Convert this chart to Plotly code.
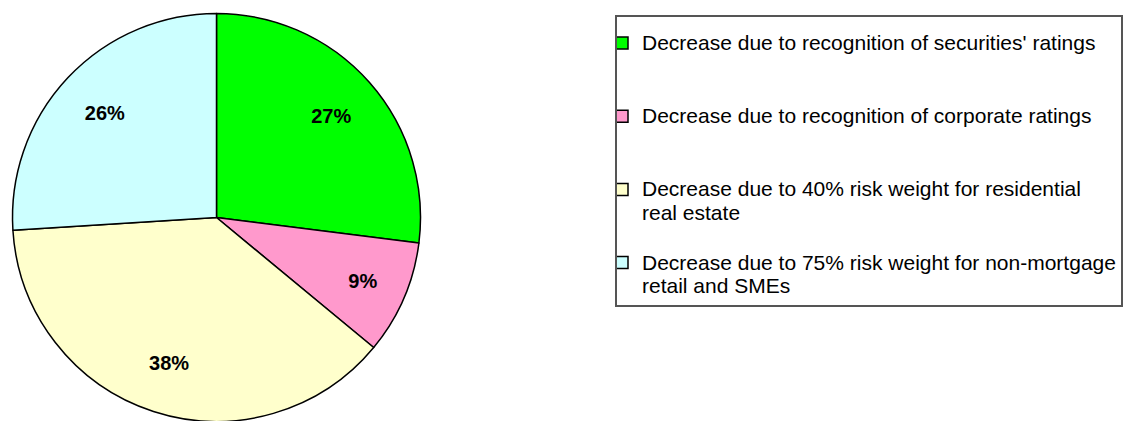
import plotly.graph_objects as go

categories = [
    "Decrease due to recognition of securities' ratings",
    "Decrease due to recognition of corporate ratings",
    "Decrease due to 40% risk weight for residential<br>real estate",
    "Decrease due to 75% risk weight for non-mortgage<br>retail and SMEs",
]
values = [27, 9, 38, 26]
colors = ["#00FF00", "#FF99CC", "#FFFFCC", "#CCFFFF"]

W, H = 1135, 421
OFF = 8  # default page body margin of the browser
LEG_SIZE = 18
TXT_SIZE = 21
FONT = "Liberation Sans, Arial, sans-serif"


def legend_label(text, pad_lines):
    lines = text.split("<br>")
    styled = [f"<span style='font-size:{TXT_SIZE}px'>{ln}</span>" for ln in lines]
    styled += [" "] * pad_lines
    return "<br>".join(styled)


pads = [2, 2, 1, 0]
legend_labels = [legend_label(c, p) for c, p in zip(categories, pads)]

# pie placement in screen pixels (left, top, diameter)
px_left, px_top, diam = 12.5 - OFF, 13.5 - OFF, 408
dom_x = [px_left / W, (px_left + diam) / W]
dom_y = [1 - (px_top + diam) / H, 1 - px_top / H]

fig = go.Figure()

# the pie itself
fig.add_trace(
    go.Pie(
        labels=legend_labels,
        values=values,
        marker=dict(colors=colors, line=dict(color="#000000", width=1.5)),
        sort=False,
        direction="clockwise",
        rotation=0,
        textinfo="none",
        domain=dict(x=dom_x, y=dom_y),
        hoverinfo="label+percent",
    )
)

# transparent ring carrying the percentage labels further out from the centre
fig.add_trace(
    go.Pie(
        labels=categories,
        values=values,
        hole=0.5,
        marker=dict(colors=["rgba(0,0,0,0)"] * len(values), line=dict(width=0)),
        sort=False,
        direction="clockwise",
        rotation=0,
        textinfo="percent",
        texttemplate="%{percent:.0%}",
        textposition="inside",
        insidetextorientation="horizontal",
        textfont=dict(family=FONT, size=20, color="#000000", weight="bold"),
        domain=dict(x=dom_x, y=dom_y),
        showlegend=False,
        hoverinfo="skip",
    )
)

fig.update_layout(
    width=W,
    height=H,
    margin=dict(l=0, r=0, t=0, b=0),
    paper_bgcolor="#FFFFFF",
    plot_bgcolor="#FFFFFF",
    showlegend=True,
    legend=dict(
        x=(615 - OFF) / W,
        y=1 - (15 - OFF) / H,
        xanchor="left",
        yanchor="top",
        bgcolor="#FFFFFF",
        bordercolor="#555555",
        borderwidth=2,
        font=dict(family=FONT, size=LEG_SIZE, color="#000000"),
        title=dict(text=" ", font=dict(size=6)),
        valign="top",
        indentation=-15,
        traceorder="normal",
    ),
)

fig.write_html("out.html")
